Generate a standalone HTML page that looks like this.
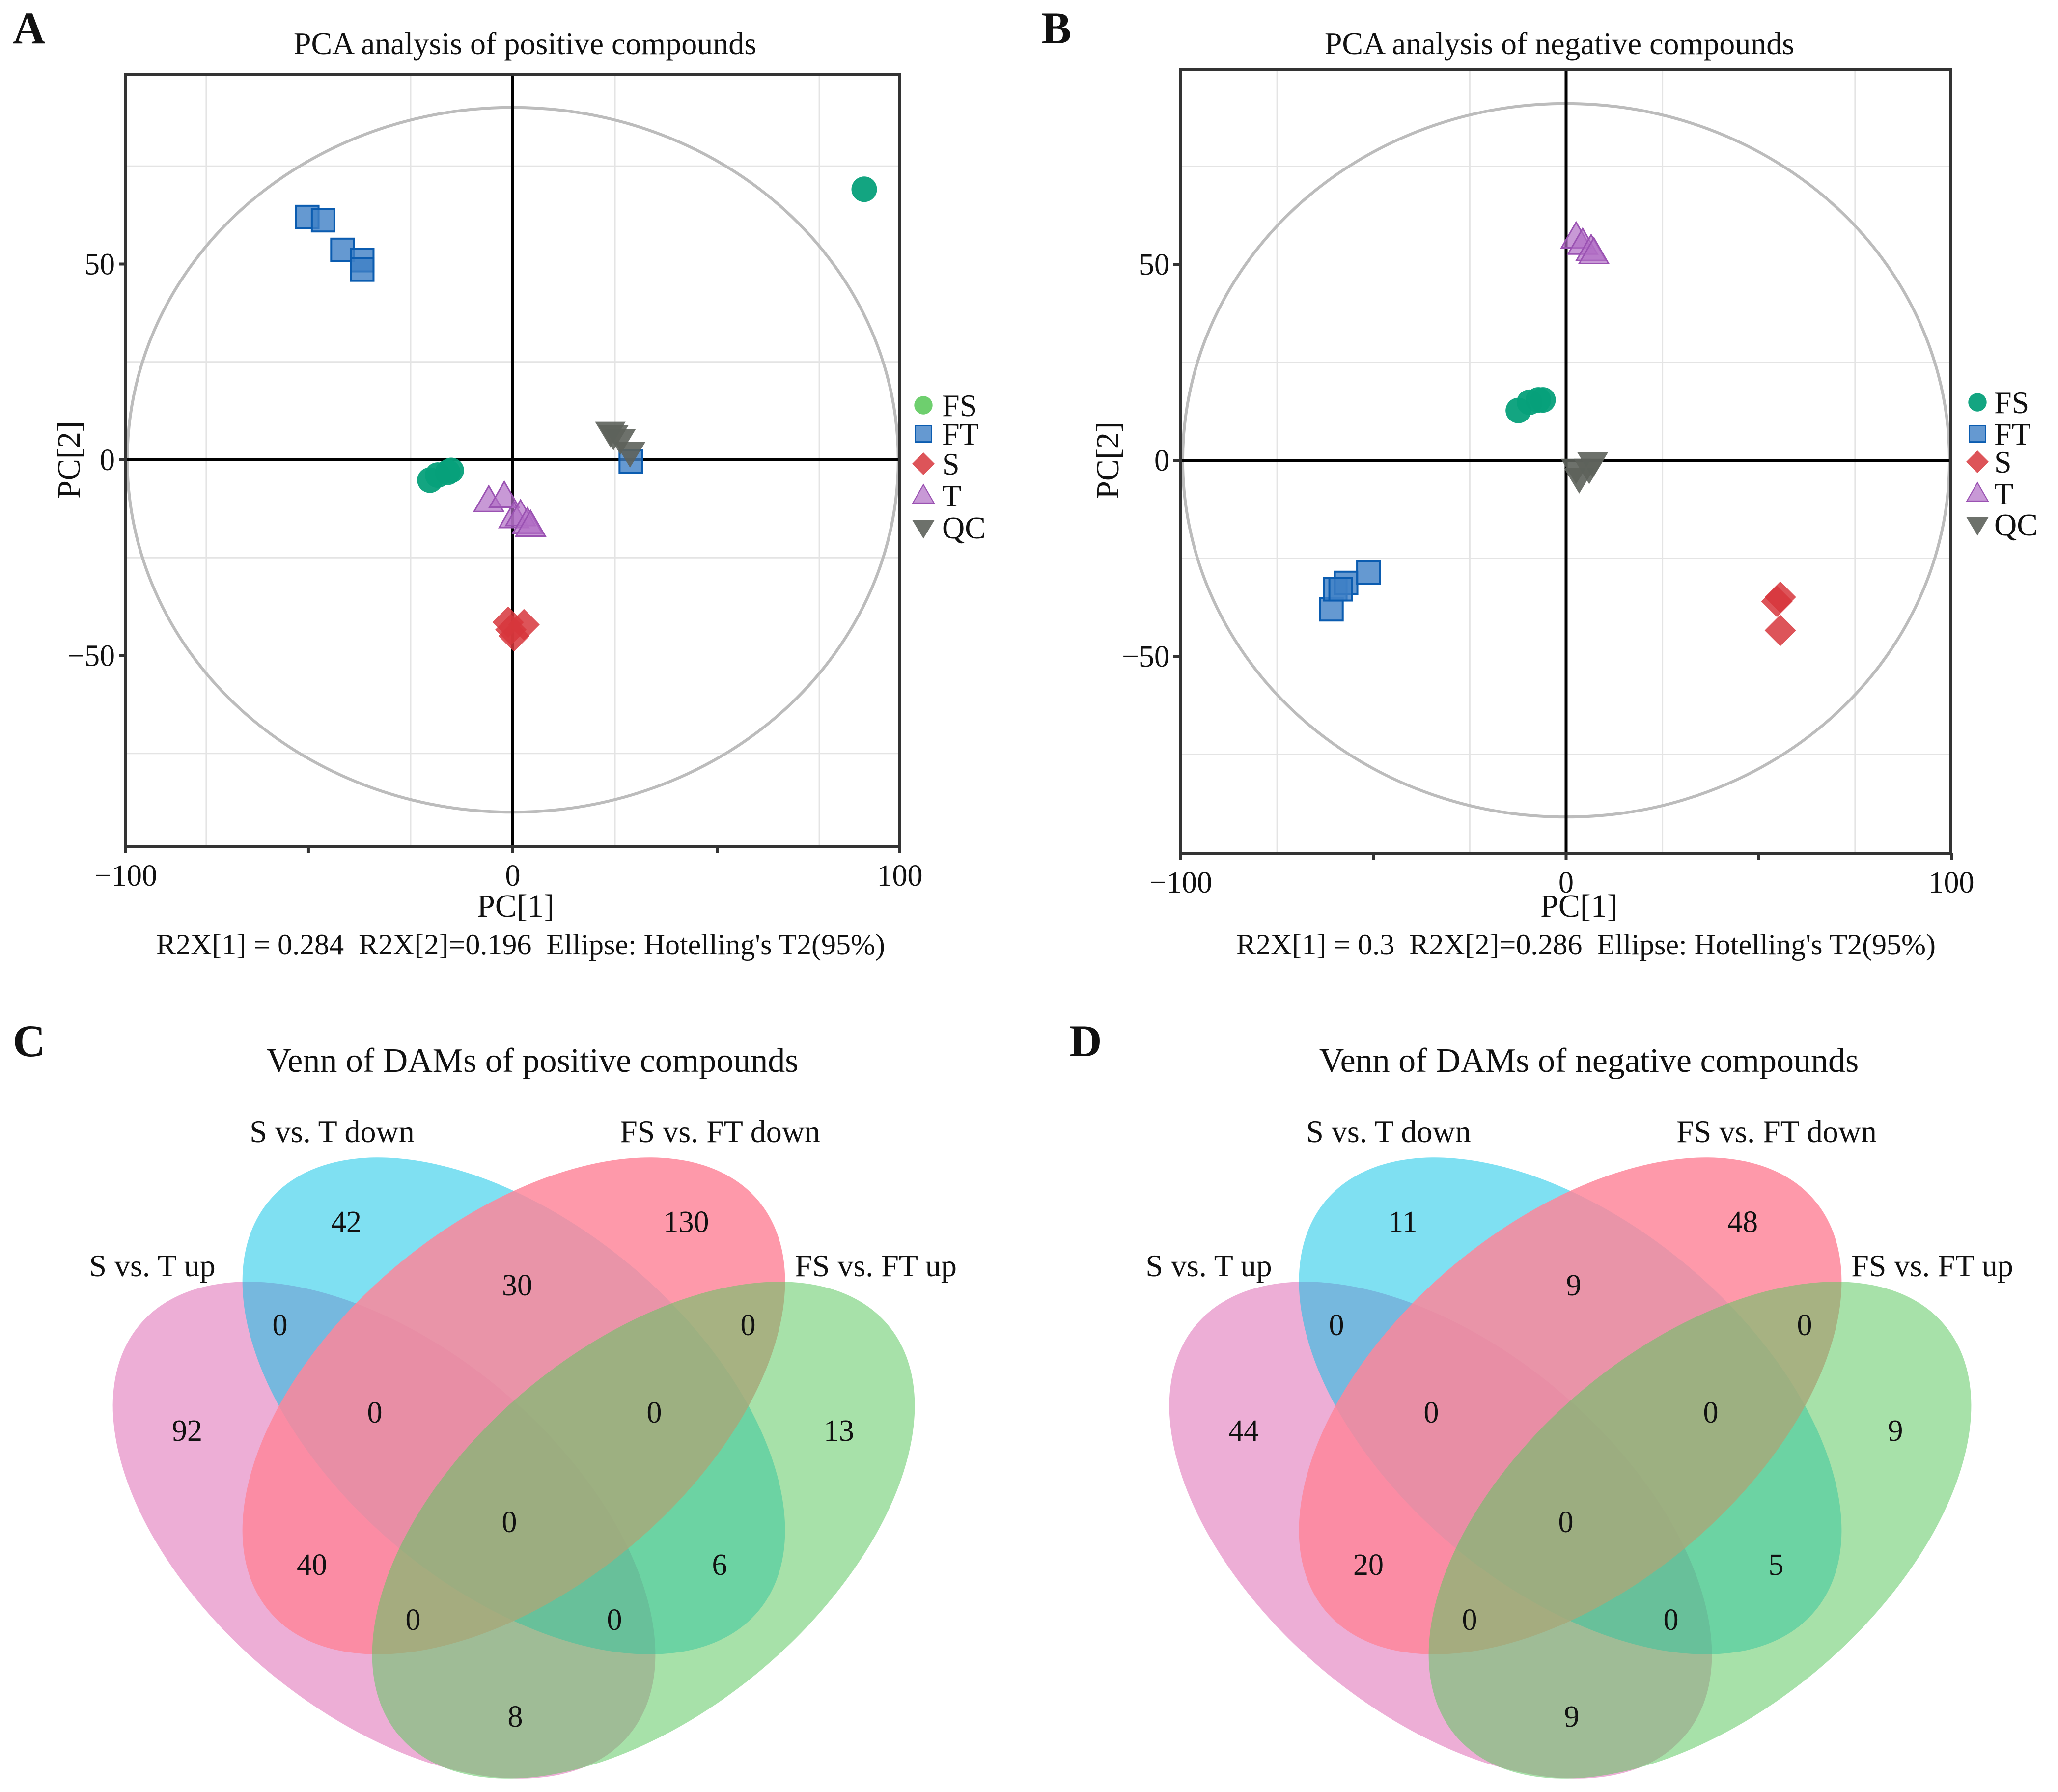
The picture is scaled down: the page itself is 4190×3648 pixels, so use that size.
<!DOCTYPE html>
<html><head><meta charset="utf-8"><style>
html,body{margin:0;padding:0;background:#fff}
svg{display:block}
text{font-family:"Liberation Serif",serif;fill:#111;white-space:pre}
</style></head><body>
<svg id="fig" xmlns="http://www.w3.org/2000/svg" width="4190" height="3648" viewBox="0 0 4190 3648">
<rect width="4190" height="3648" fill="#fff"/>
<g id="pA"></g>
<g id="pB"></g>
<g id="vC"></g>
<g id="vD"></g>
</svg>
<script>
// ---------- PCA data (panel A, positive) ----------
const groups = ["FS","FT","S","T","QC"];
const A_FS_x = [-21.4,-19.4,-16.8,-15.9,90.8];
const A_FS_y = [-5.2,-3.9,-3.2,-2.7,69.1];
const A_FT_x = [-53.1,-49,-44,-38.9,-38.9,30.5];
const A_FT_y = [62,61.2,53.6,51,48.6,-0.5];
const A_S_x = [-1.2,2.9,0.3,-0.5];
const A_S_y = [-41.5,-42.1,-45,-43.4];
const A_T_x = [-6.2,-2.2,0.3,2,3.8,4.6];
const A_T_y = [-10.6,-9.5,-14.7,-14.2,-16.2,-16.9];
const A_QC_x = [26,27.8,30.3,25.2];
const A_QC_y = [6.3,5.2,1.9,7.1];
// ---------- PCA data (panel B, negative) ----------
const B_FS_x = [-12.4,-9.5,-7.2,-6];
const B_FS_y = [12.7,14.8,15.4,15.4];
const B_FT_x = [-60.9,-59.9,-57.1,-58.5,-51.3];
const B_FT_y = [-38,-32.9,-31.3,-32.9,-28.6];
const B_S_x = [55.6,54.7,55.6];
const B_S_y = [-34.9,-36,-43.4];
const B_T_x = [2.6,4.3,6.5,7.2];
const B_T_y = [56.8,55.2,53.6,52.8];
const B_QC_x = [2.6,3.4,6.9,6];
const B_QC_y = [-2.2,-4.6,-0.6,-2.2];
const xTickLabels = ["−100","0","100"];
const xTickVals = [-100,0,100];
const yTickLabels = ["50","0","−50"];
const yTickVals = [50,0,-50];

// ---------- Venn data ----------
const vennSets = ["S vs. T up","S vs. T down","FS vs. FT down","FS vs. FT up"];
const C_counts = [42,130,92,13,30,0,0,0,0,0,40,6,0,0,8];
const D_counts = [11,48,44,9,9,0,0,0,0,0,20,5,0,0,9];

const NS="http://www.w3.org/2000/svg";
function mk(parent,tag,attrs,txt){const e=document.createElementNS(NS,tag);for(const k in attrs)e.setAttribute(k,attrs[k]);if(txt!==undefined)e.textContent=txt;parent.appendChild(e);return e;}

const COL={FS:{f:"#06a07a",s:"#06a07a",o:0.95},FT:{f:"#3f7fc6",s:"#0b5cb0",o:0.8},S:{f:"#d7363c",s:"#d7363c",o:0.85},T:{f:"#b06ec4",s:"#9a52b2",o:0.7},QC:{f:"#5d625b",s:"#5d625b",o:0.9}};

function marker(g,grp,cx,cy,sc,fillOverride){
  const c=COL[grp]; const f=fillOverride||c.f; let e;
  const s=sc;
  if(grp==="FS"){e=mk(g,"circle",{cx:cx,cy:cy,r:26*s,fill:f,"fill-opacity":c.o});}
  else if(grp==="FT"){e=mk(g,"rect",{x:cx-23*s,y:cy-23*s,width:46*s,height:46*s,fill:f,"fill-opacity":c.o,stroke:c.s,"stroke-width":4*s});}
  else if(grp==="S"){const d=32*s;e=mk(g,"polygon",{points:`${cx},${cy-d} ${cx+d},${cy} ${cx},${cy+d} ${cx-d},${cy}`,fill:f,"fill-opacity":c.o});}
  else if(grp==="T"){const h=26*s;e=mk(g,"polygon",{points:`${cx},${cy-h*1.2} ${cx+h*1.15},${cy+h*0.8} ${cx-h*1.15},${cy+h*0.8}`,fill:f,"fill-opacity":c.o,stroke:c.s,"stroke-width":3*s});}
  else {const h=26*s;e=mk(g,"polygon",{points:`${cx},${cy+h*1.2} ${cx+h*1.2},${cy-h*0.8} ${cx-h*1.2},${cy-h*0.8}`,fill:f,"fill-opacity":c.o});}
  return e;
}

function pca(g,cfg){
  const X=v=>cfg.x0+v*cfg.kx, Y=v=>cfg.y0-v*cfg.ky;
  cfg.gridX.forEach(v=>{const l=mk(g,"line",{x1:X(v),x2:X(v),y1:cfg.top,y2:cfg.bot,stroke:"#e4e4e4","stroke-width":3});
    
    });
  cfg.gridY.forEach(v=>{const l=mk(g,"line",{x1:cfg.left,x2:cfg.right,y1:Y(v),y2:Y(v),stroke:"#e4e4e4","stroke-width":3});
    
    });
  const el=mk(g,"ellipse",{cx:X(0),cy:Y(0),rx:cfg.erx*cfg.kx,ry:cfg.ery*cfg.ky,fill:"none",stroke:"#bcbcbc","stroke-width":6});
  
  
  const zx=mk(g,"line",{x1:cfg.left,x2:cfg.right,y1:Y(0),y2:Y(0),stroke:"#000","stroke-width":6});
  
  
  const zy=mk(g,"line",{x1:X(0),x2:X(0),y1:cfg.top,y2:cfg.bot,stroke:"#000","stroke-width":6});
  
  
  groups.forEach(grp=>{
    const xs=cfg.data[grp][0], ys=cfg.data[grp][1];
    xs.forEach((v,i)=>{const m=marker(g,grp,X(v),Y(ys[i]),1);
      
      });
  });
  const bx=mk(g,"rect",{x:cfg.left,y:cfg.top,width:cfg.right-cfg.left,height:cfg.bot-cfg.top,fill:"none",stroke:"#333","stroke-width":6});
  
  
  cfg.tickX.forEach(v=>{const t=mk(g,"line",{x1:X(v),x2:X(v),y1:cfg.bot,y2:cfg.bot+14,stroke:"#333","stroke-width":6});
    
    });
  yTickVals.forEach(v=>{const t=mk(g,"line",{x1:cfg.left-14,x2:cfg.left,y1:Y(v),y2:Y(v),stroke:"#333","stroke-width":6});
    
    });
  xTickVals.forEach((v,i)=>{const t=mk(g,"text",{x:X(v),y:cfg.bot+80,"font-size":62,"text-anchor":"middle",fill:"#333"},xTickLabels[i]);
    
    });
  yTickVals.forEach((v,i)=>{const t=mk(g,"text",{x:cfg.left-22,y:Y(v)+21,"font-size":62,"text-anchor":"end",fill:"#333"},yTickLabels[i]);
    
    });
  let t=mk(g,"text",{x:cfg.tx,y:110,"font-size":64,"text-anchor":"middle"},cfg.title);
  
  
  t=mk(g,"text",{x:cfg.pcx,y:1866,"font-size":66,"text-anchor":"middle"},"PC[1]");
  
  
  t=mk(g,"text",{x:0,y:0,"font-size":66,"text-anchor":"middle",transform:`translate(${cfg.pcyx},${Y(0)}) rotate(-90)`},"PC[2]");
  
  
  t=mk(g,"text",{x:cfg.rx,y:1943,"font-size":60,"text-anchor":"middle"},cfg.r2x);
  
  
  t=mk(g,"text",{x:cfg.lx,y:88,"font-size":92,"font-weight":"bold"},cfg.letter);
  
  
  groups.forEach((grp,i)=>{
    const ly=cfg.legY[i];
    const m=marker(g,grp,cfg.legMx,ly,0.72,(grp==="FS"&&cfg.letter==="A")?"#66cc66":null);
    
    
    const lt=mk(g,"text",{x:cfg.legTx,y:ly+22,"font-size":64},grp);
    
    
  });
}

pca(document.getElementById("pA"),{
  x0:1044,kx:7.88,y0:936,ky:7.97,left:256,right:1832,top:151,bot:1723,
  gridX:[-79.2,-26.4,26.4,79.2],gridY:[75,25,-25,-75],tickX:[-100,-52.8,0,52.8,100],
  erx:99.6,ery:90,
  data:{FS:[A_FS_x,A_FS_y],FT:[A_FT_x,A_FT_y],S:[A_S_x,A_S_y],T:[A_T_x,A_T_y],QC:[A_QC_x,A_QC_y]},
  title:"PCA analysis of positive compounds",tx:1069,pcx:1050,pcyx:162,rx:1060,
  r2x:"R2X[1] = 0.284  R2X[2]=0.196  Ellipse: Hotelling's T2(95%)",
  letter:"A",lx:26,legMx:1880,legTx:1918,legY:[825,883,944,1009,1074]
});
pca(document.getElementById("pB"),{
  x0:3188.5,kx:7.845,y0:937,ky:7.98,left:2403,right:3972,top:142,bot:1737,
  gridX:[-75,-25,25,75],gridY:[75,25,-25,-75],tickX:[-100,-50,0,50,100],
  erx:99.5,ery:91,
  data:{FS:[B_FS_x,B_FS_y],FT:[B_FT_x,B_FT_y],S:[B_S_x,B_S_y],T:[B_T_x,B_T_y],QC:[B_QC_x,B_QC_y]},
  title:"PCA analysis of negative compounds",tx:3175,pcx:3215,pcyx:2277,rx:3229,
  r2x:"R2X[1] = 0.3  R2X[2]=0.286  Ellipse: Hotelling's T2(95%)",
  letter:"B",lx:2120,legMx:4026,legTx:4060,legY:[819,883,940,1005,1068]
});

// ---------- Venn ----------
const regionPos=[[-341,2486],[351,2486],[-665,2911],[662,2911],[7,2615],[-476,2696],[477,2696],[-283,2874],[286,2874],[-9,3097],[-411,3184],[419,3184],[-205,3296],[205,3296],[3,3493]];
function venn(g,mid,counts,title,letter){
  const cy0=2862, dy=253, dx=264;
  const ells=[
    {cx:mid-dx,cy:cy0+dy,rot:40,c:"#db5dad",o:0.5,n:"ellipse-s-vs-t-up"},
    {cx:mid,cy:cy0,rot:40,c:"#00c1e5",o:0.5,n:"ellipse-s-vs-t-down"},
    {cx:mid,cy:cy0,rot:-40,c:"#fe869a",o:0.84,n:"ellipse-fs-vs-ft-down"},
    {cx:mid+dx,cy:cy0+dy,rot:-40,c:"#5cc860",o:0.54,n:"ellipse-fs-vs-ft-up"}];
  ells.forEach(e=>{const el=mk(g,"ellipse",{cx:e.cx,cy:e.cy,rx:650,ry:372,fill:e.c,"fill-opacity":e.o,transform:`rotate(${e.rot} ${e.cx} ${e.cy})`});
    
    });
  counts.forEach((v,i)=>{const t=mk(g,"text",{x:mid+regionPos[i][0],y:regionPos[i][1]+22,"font-size":62,"text-anchor":"middle"},String(v));
    
    });
  const lp=[[-736,2598],[-370,2325],[420,2325],[737,2598]];
  vennSets.forEach((s,i)=>{const t=mk(g,"text",{x:mid+lp[i][0],y:lp[i][1],"font-size":64,"text-anchor":"middle"},s);
    
    });
  let t=mk(g,"text",{x:mid+38,y:2182,"font-size":70,"text-anchor":"middle"},title);
  
  
  t=mk(g,"text",{x:mid-1020,y:2150,"font-size":92,"font-weight":"bold"},letter);
  
  
}
venn(document.getElementById("vC"),1046,C_counts,"Venn of DAMs of positive compounds","C");
venn(document.getElementById("vD"),3197,D_counts,"Venn of DAMs of negative compounds","D");
</script>
</body></html>
